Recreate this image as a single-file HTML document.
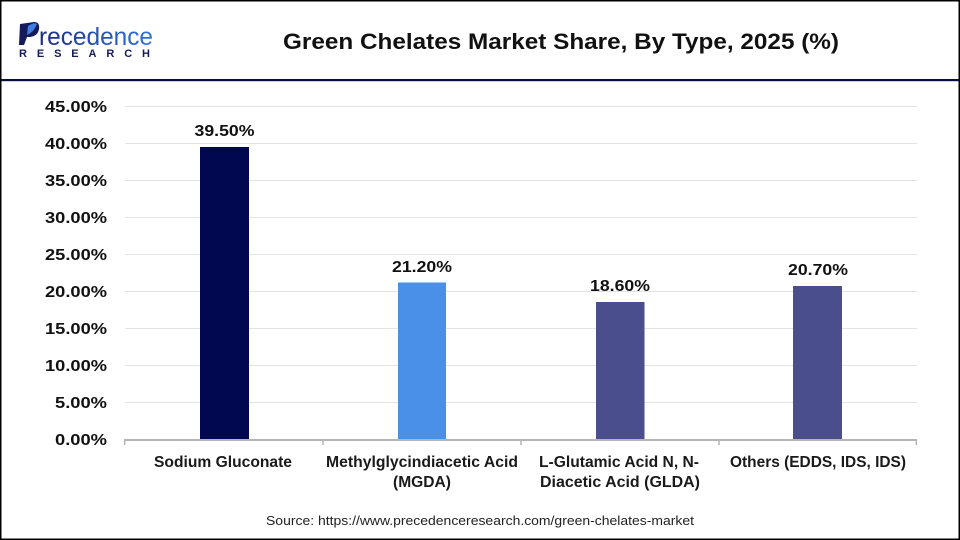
<!DOCTYPE html>
<html><head><meta charset="utf-8"><style>
html,body{margin:0;padding:0;background:#fff;}
svg{display:block;}
text{font-family:"Liberation Sans",Arial,sans-serif;}
</style></head><body>
<svg width="960" height="540" viewBox="0 0 960 540" xmlns="http://www.w3.org/2000/svg">
<defs>
<linearGradient id="lg" x1="0" x2="1" y1="0" y2="0">
<stop offset="0" stop-color="#1a2a80"/><stop offset="1" stop-color="#2f74e6"/>
</linearGradient>
</defs>
<rect x="0" y="0" width="960" height="540" fill="#fff"/>
<rect x="0.75" y="0.75" width="958.5" height="538.5" fill="none" stroke="#000" stroke-width="1.5"/>
<rect x="1" y="79" width="958" height="2.2" fill="#0b0f3d"/>

<!-- logo -->
<path d="M20 24 L34 22 Q40 22 39 29 Q38 36 30 37 L27 37 L24 45 L19 45 Z" fill="#141a5a"/>
<path d="M28 26 Q34 22 37 24 Q34 32 27 35 Z" fill="#3c7fe0"/>
<text x="39" y="45" font-size="25" fill="url(#lg)" textLength="114" lengthAdjust="spacingAndGlyphs">recedence</text>
<text x="19" y="57" font-size="11" font-weight="bold" fill="#141a5a" textLength="131" lengthAdjust="spacing">RESEARCH</text>

<!-- title -->
<text x="283" y="49" font-size="22" font-weight="bold" fill="#111" textLength="556" lengthAdjust="spacingAndGlyphs">Green Chelates Market Share, By Type, 2025 (%)</text>

<!-- gridlines -->
<g stroke="#e3e3e3" stroke-width="1">
<line x1="125" x2="917" y1="106.5" y2="106.5"/>
<line x1="125" x2="917" y1="143.5" y2="143.5"/>
<line x1="125" x2="917" y1="180.5" y2="180.5"/>
<line x1="125" x2="917" y1="217.5" y2="217.5"/>
<line x1="125" x2="917" y1="254.5" y2="254.5"/>
<line x1="125" x2="917" y1="291.5" y2="291.5"/>
<line x1="125" x2="917" y1="328.5" y2="328.5"/>
<line x1="125" x2="917" y1="365.5" y2="365.5"/>
<line x1="125" x2="917" y1="402.5" y2="402.5"/>
</g>

<!-- y labels -->
<g font-size="16" font-weight="bold" fill="#111" text-anchor="end">
<text x="107" y="112" textLength="62" lengthAdjust="spacingAndGlyphs">45.00%</text>
<text x="107" y="149" textLength="62" lengthAdjust="spacingAndGlyphs">40.00%</text>
<text x="107" y="186" textLength="62" lengthAdjust="spacingAndGlyphs">35.00%</text>
<text x="107" y="223" textLength="62" lengthAdjust="spacingAndGlyphs">30.00%</text>
<text x="107" y="260" textLength="62" lengthAdjust="spacingAndGlyphs">25.00%</text>
<text x="107" y="297" textLength="62" lengthAdjust="spacingAndGlyphs">20.00%</text>
<text x="107" y="334" textLength="62" lengthAdjust="spacingAndGlyphs">15.00%</text>
<text x="107" y="371" textLength="62" lengthAdjust="spacingAndGlyphs">10.00%</text>
<text x="107" y="408" textLength="52" lengthAdjust="spacingAndGlyphs">5.00%</text>
<text x="107" y="445" textLength="52" lengthAdjust="spacingAndGlyphs">0.00%</text>
</g>

<!-- bars -->
<rect x="200" y="147" width="49" height="292.5" fill="#020850"/>
<rect x="398" y="282.5" width="48" height="157" fill="#4a90e8"/>
<rect x="596" y="302" width="48.5" height="137.5" fill="#4a4e8c"/>
<rect x="793" y="286" width="49" height="153.5" fill="#4a4e8a"/>

<!-- axis -->
<rect x="124" y="439" width="793" height="2" fill="#b5b5b5"/>
<g stroke="#b5b5b5" stroke-width="1.5">
<line x1="124.7" x2="124.7" y1="439" y2="445"/>
<line x1="323" x2="323" y1="439" y2="445"/>
<line x1="521" x2="521" y1="439" y2="445"/>
<line x1="719" x2="719" y1="439" y2="445"/>
<line x1="916.3" x2="916.3" y1="439" y2="445"/>
</g>

<!-- data labels -->
<g font-size="16" font-weight="bold" fill="#111" text-anchor="middle">
<text x="224.5" y="136" textLength="60" lengthAdjust="spacingAndGlyphs">39.50%</text>
<text x="422" y="272" textLength="60" lengthAdjust="spacingAndGlyphs">21.20%</text>
<text x="620" y="291" textLength="60" lengthAdjust="spacingAndGlyphs">18.60%</text>
<text x="818" y="275" textLength="60" lengthAdjust="spacingAndGlyphs">20.70%</text>
</g>

<!-- category labels -->
<g font-size="15.5" font-weight="bold" fill="#1a1a1a" text-anchor="middle">
<text x="223" y="467" textLength="138" lengthAdjust="spacingAndGlyphs">Sodium Gluconate</text>
<text x="422" y="467" textLength="192" lengthAdjust="spacingAndGlyphs">Methylglycindiacetic Acid</text>
<text x="422" y="487" textLength="58" lengthAdjust="spacingAndGlyphs">(MGDA)</text>
<text x="619" y="467" textLength="160" lengthAdjust="spacingAndGlyphs">L-Glutamic Acid N, N-</text>
<text x="620" y="487" textLength="160" lengthAdjust="spacingAndGlyphs">Diacetic Acid (GLDA)</text>
<text x="818" y="467" textLength="176" lengthAdjust="spacingAndGlyphs">Others (EDDS, IDS, IDS)</text>
</g>

<!-- source -->
<text x="480" y="525" font-size="13" fill="#222" text-anchor="middle" textLength="428" lengthAdjust="spacingAndGlyphs">Source: https://www.precedenceresearch.com/green-chelates-market</text>
</svg>
</body></html>
